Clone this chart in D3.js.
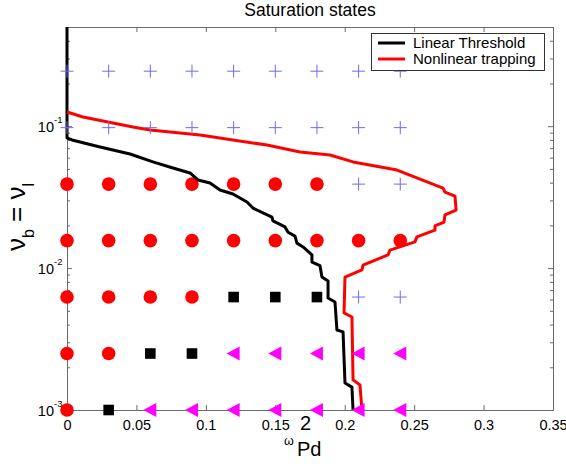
<!DOCTYPE html>
<html>
<head>
<meta charset="utf-8">
<script src="https://cdn.jsdelivr.net/npm/d3@7"></script>
<style>
  body { margin: 0; background: #fff; }
  svg { display: block; }
  text { font-family: "Liberation Sans", Arial, sans-serif; fill: #000; }
</style>
</head>
<body>
<svg id="chart" width="566" height="467"></svg>
<script>
// ---------------- data ----------------
const xCols = [0, 0.03, 0.06, 0.09, 0.12, 0.15, 0.18, 0.21, 0.24];
const yRows = [0.001, 0.0025, 0.00625, 0.015625, 0.0390625, 0.09765625, 0.244140625];
// state per row (bottom to top): C = circle, S = square, T = triangle, P = plus
const stateRows = [
  "CSTTTTTTT",
  "CCSSTTTTT",
  "CCCCSSSPP",
  "CCCCCCCCC",
  "CCCCCCCPP",
  "PPPPPPPPP",
  "PPPPPPPPP"
];
const linearThreshold = [
  [0,0.5],[0,0.0826],[0.0036,0.080],[0.0238,0.0713],[0.0454,0.0637],[0.0619,0.056],
  [0.0763,0.0507],[0.0886,0.0468],[0.0943,0.0418],[0.103,0.0398],[0.1102,0.0355],
  [0.1195,0.0333],[0.1296,0.0292],[0.1339,0.0265],[0.1476,0.0229],[0.1483,0.0215],
  [0.157,0.0195],[0.1592,0.0179],[0.1642,0.0168],[0.1656,0.015],[0.17,0.0141],
  [0.1764,0.0124],[0.1764,0.011],[0.1822,0.0104],[0.1836,0.00865],[0.188,0.00811],
  [0.188,0.00615],[0.193,0.00577],[0.1944,0.00366],[0.1988,0.00355],[0.2002,0.00155],
  [0.2052,0.00145],[0.206,0.001]
];
const nonlinearTrapping = [
  [0,0.1259],[0.0115,0.1161],[0.0475,0.0986],[0.0598,0.094],[0.0958,0.0867],
  [0.144,0.0736],[0.1678,0.0657],[0.1894,0.0627],[0.206,0.056],[0.2377,0.0491],
  [0.2708,0.0366],[0.2722,0.0343],[0.2794,0.0322],[0.2802,0.0256],[0.2722,0.0237],
  [0.2715,0.0211],[0.265,0.0198],[0.265,0.0185],[0.252,0.0166],[0.2506,0.0153],
  [0.2326,0.0134],[0.2312,0.0124],[0.2132,0.0105],[0.2124,0.0097],[0.2002,0.00865],
  [0.1995,0.00483],[0.2052,0.00452],[0.206,0.00163],[0.211,0.0015],[0.2124,0.001]
];
const xTicks = [0, 0.05, 0.1, 0.15, 0.2, 0.25, 0.3, 0.35];
const xTickLabels = ["0", "0.05", "0.1", "0.15", "0.2", "0.25", "0.3", "0.35"];
const yMajor = [0.001, 0.01, 0.1];
const yMajorExp = ["-3", "-2", "-1"];
const legendLabels = ["Linear Threshold", "Nonlinear trapping"];
const titleText = "Saturation states";

// ---------------- layout ----------------
const L = 67, R = 553, T = 27, B = 410;
const svg = d3.select("#chart");
const x = d3.scaleLinear().domain([0, 0.35]).range([L, R]);
const y = d3.scaleLog().domain([0.001, 0.5]).range([B, T]);
const axisColor = "#6a6a6a";

// minor ticks for log axis
const yMinor = [];
[0.001, 0.01, 0.1].forEach(d => { for (let k = 2; k <= 9; k++) { const v = d * k; if (v <= 0.5 + 1e-9) yMinor.push(v); } });

// ---------------- axes ----------------
const gB = svg.append("g").attr("transform", `translate(0,${B})`)
  .call(d3.axisBottom(x).tickValues(xTicks).tickSize(-5).tickFormat((d,i) => xTickLabels[i]).tickPadding(10));
const gT = svg.append("g").attr("transform", `translate(0,${T})`)
  .call(d3.axisTop(x).tickValues(xTicks).tickSize(-5).tickFormat(""));
const gLeft = svg.append("g").attr("transform", `translate(${L},0)`)
  .call(d3.axisLeft(y).tickValues(yMajor).tickSize(-5).tickFormat(""));
const gLeftMinor = svg.append("g").attr("transform", `translate(${L},0)`)
  .call(d3.axisLeft(y).tickValues(yMinor).tickSize(-3).tickFormat(""));
const gRight = svg.append("g").attr("transform", `translate(${R},0)`)
  .call(d3.axisRight(y).tickValues(yMajor).tickSize(-5).tickFormat(""));
const gRightMinor = svg.append("g").attr("transform", `translate(${R},0)`)
  .call(d3.axisRight(y).tickValues(yMinor).tickSize(-3).tickFormat(""));

[gB, gT, gLeft, gLeftMinor, gRight, gRightMinor].forEach(g => {
  g.selectAll("path.domain").attr("stroke", axisColor);
  g.selectAll(".tick line").attr("stroke", axisColor);
});
gB.selectAll(".tick text").attr("font-size", "14.5px").attr("fill", "#000")
  .style("font-family", "'Liberation Sans', Arial, sans-serif");
gLeftMinor.select("path.domain").remove();
gRightMinor.select("path.domain").remove();

// y tick labels 10^n
yMajor.forEach((v, i) => {
  svg.append("text").attr("x", 54).attr("y", y(v) + 6)
    .attr("text-anchor", "end").attr("font-size", "14.5px").text("10");
  svg.append("text").attr("x", 54).attr("y", y(v) - 3)
    .attr("font-size", "9.5px").text(yMajorExp[i]);
});

// ---------------- markers (under curves) ----------------
const cells = [];
stateRows.forEach((row, ri) => {
  row.split("").forEach((s, ci) => cells.push({ x: xCols[ci], y: yRows[ri], s }));
});
const markers = svg.append("g");
markers.selectAll("circle").data(cells.filter(d => d.s === "C")).join("circle")
  .attr("cx", d => x(d.x)).attr("cy", d => y(d.y)).attr("r", 6.8).attr("fill", "#ff0000");
markers.selectAll("rect").data(cells.filter(d => d.s === "S")).join("rect")
  .attr("x", d => x(d.x) - 5.3).attr("y", d => y(d.y) - 5.3)
  .attr("width", 10.6).attr("height", 10.6).attr("fill", "#000");

// ---------------- curves ----------------
const line = d3.line().x(d => x(d[0])).y(d => y(d[1]));
svg.append("path").datum(linearThreshold).attr("d", line)
  .attr("fill", "none").attr("stroke", "#000").attr("stroke-width", 3).attr("stroke-linejoin", "round");
svg.append("path").datum(nonlinearTrapping).attr("d", line)
  .attr("fill", "none").attr("stroke", "#ff0000").attr("stroke-width", 3).attr("stroke-linejoin", "round");

// triangles and pluses
const overG = svg.append("g");
overG.selectAll("path.tri").data(cells.filter(d => d.s === "T")).join("path")
  .attr("class", "tri")
  .attr("d", d => { const cx = x(d.x), cy = y(d.y); return `M${cx-7},${cy} L${cx+6},${cy-7} L${cx+6},${cy+7} Z`; })
  .attr("fill", "#ff00ff");
overG.selectAll("path.plus").data(cells.filter(d => d.s === "P")).join("path")
  .attr("class", "plus")
  .attr("d", d => { const cx = x(d.x), cy = y(d.y); return `M${cx-6.5},${cy} H${cx+6.5} M${cx},${cy-6.5} V${cy+6.5}`; })
  .attr("stroke", "#6a6aff").attr("stroke-width", 1).attr("fill", "none");

// ---------------- title & labels ----------------
svg.append("text").attr("x", (L + R) / 2).attr("y", 16).attr("text-anchor", "middle")
  .attr("font-size", "17.5px").text(titleText);

// y label: ν_b = ν_l
const yl = svg.append("text").attr("transform", "translate(25,217) rotate(-90)")
  .attr("text-anchor", "middle").attr("font-size", "26px");
yl.append("tspan").text("ν");
yl.append("tspan").attr("font-size", "16px").attr("dy", 9).text("b");
yl.append("tspan").attr("dy", -9).text(" = ν");
yl.append("tspan").attr("font-size", "16px").attr("dy", 9).text("l");

// x label: ω_Pd ^2 (MATLAB-style layout)
svg.append("text").attr("x", 284).attr("y", 445).attr("font-size", "12.5px").text("ω");
svg.append("text").attr("x", 297).attr("y", 456).attr("font-size", "20px").text("Pd");
svg.append("text").attr("x", 300).attr("y", 430).attr("font-size", "20px").text("2");

// ---------------- legend ----------------
const lg = svg.append("g");
lg.append("rect").attr("x", 371.5).attr("y", 33.5).attr("width", 173).attr("height", 37)
  .attr("fill", "#fff").attr("stroke", "#333");
const legendColors = ["#000", "#ff0000"];
legendLabels.forEach((lab, i) => {
  const cy = 43 + i * 16;
  lg.append("line").attr("x1", 378).attr("x2", 405).attr("y1", cy).attr("y2", cy)
    .attr("stroke", legendColors[i]).attr("stroke-width", 3);
  lg.append("text").attr("x", 413).attr("y", cy + 5).attr("font-size", "15px").text(lab);
});
</script>
</body>
</html>
